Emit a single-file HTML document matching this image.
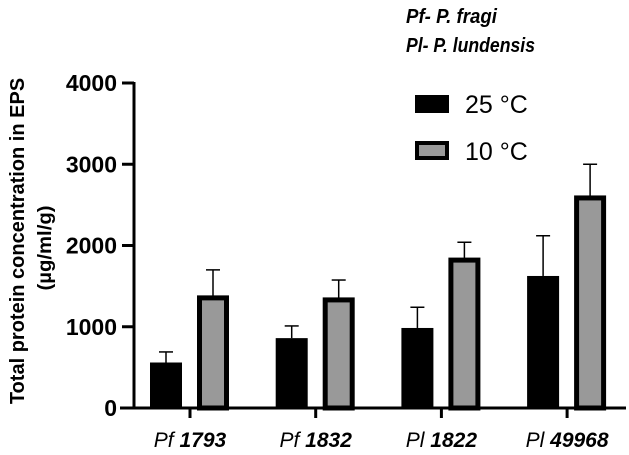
<!DOCTYPE html>
<html><head><meta charset="utf-8"><style>
body{margin:0;background:#fff;}
svg text{font-family:"Liberation Sans",sans-serif;}
</style></head><body>
<svg id="chart" width="629" height="450" viewBox="0 0 629 450">
<text x="406" y="23" font-size="20" font-weight="bold" font-style="italic" textLength="91" lengthAdjust="spacingAndGlyphs">Pf- P. fragi</text>
<text x="406" y="52" font-size="20" font-weight="bold" font-style="italic" textLength="129" lengthAdjust="spacingAndGlyphs">Pl- P. lundensis</text>
<g>
<rect x="415" y="95" width="34" height="18" fill="#000"/>
<text x="465" y="113" font-size="25">25 °C</text>
<rect x="417" y="143" width="30" height="15" fill="#999" stroke="#000" stroke-width="4"/>
<text x="465" y="160" font-size="25">10 °C</text>
</g>
<text transform="translate(24,241) rotate(-90)" text-anchor="middle" font-size="20" font-weight="bold">Total protein concentration in EPS</text>
<text transform="translate(51,248) rotate(-90)" text-anchor="middle" font-size="19" font-weight="bold" textLength="85" lengthAdjust="spacingAndGlyphs">(µg/ml/g)</text>
<g id="plot"></g>
</svg>
<script>
const categories=["1793","1832","1822","49968"];
const prefixes=["Pf","Pf","Pl","Pl"];
const values25=[560,860,985,1625];
const err25=[130,150,255,495];
const values10=[1380,1355,1845,2610];
const err10=[320,220,195,390];
const yTicks=[0,1000,2000,3000,4000];
const NS="http://www.w3.org/2000/svg";
const g=document.getElementById('plot');
const y0=408,yTop=83,yMax=4000;
function yS(v){return y0-(v/yMax)*(y0-yTop);}
function xS(i){return 190+i*125.7;}
function mk(tag,attrs,parent){const e=document.createElementNS(NS,tag);for(const k in attrs)e.setAttribute(k,attrs[k]);(parent||g).appendChild(e);return e;}
let e;
e=mk('line',{x1:134,y1:yTop-1,x2:134,y2:y0+1.5,stroke:'#000','stroke-width':3});


e=mk('line',{x1:120,y1:y0,x2:626,y2:y0,stroke:'#000','stroke-width':3});


yTicks.forEach(t=>{
 e=mk('line',{x1:122,y1:yS(t),x2:134,y2:yS(t),stroke:'#000','stroke-width':3});
 
 
 e=mk('text',{x:117,y:yS(t)+8,'text-anchor':'end','font-size':23,'font-weight':'bold'});
 e.textContent=t;
 
 
});
function errBar(cx,v,er){
 const yt=yS(v+er);
 e=mk('line',{x1:cx,y1:yS(v),x2:cx,y2:yt,stroke:'#000','stroke-width':1.5});
 
 
 e=mk('line',{x1:cx-7,y1:yt,x2:cx+7,y2:yt,stroke:'#000','stroke-width':1.5});
 
 
}
categories.forEach((c,i)=>{
 const cx=xS(i);
 e=mk('line',{x1:cx,y1:y0,x2:cx,y2:y0+10,stroke:'#000','stroke-width':3});
 
 
 errBar(cx-24,values25[i],err25[i]);
 errBar(cx+23,values10[i],err10[i]);
 e=mk('rect',{x:cx-40,y:yS(values25[i]),width:32,height:y0-yS(values25[i]),fill:'#000'});
 
 
 e=mk('rect',{x:cx+9.5,y:yS(values10[i])+2,width:27,height:y0-yS(values10[i])-2,fill:'#999',stroke:'#000','stroke-width':5});
 
 
 const t=mk('text',{x:cx,y:447,'text-anchor':'middle','font-size':21,'font-style':'italic'});
 
 
 const a=mk('tspan',{},t);a.textContent=prefixes[i]+' ';
 const b=mk('tspan',{'font-weight':'bold'},t);b.textContent=c;
});
</script>
</body></html>
